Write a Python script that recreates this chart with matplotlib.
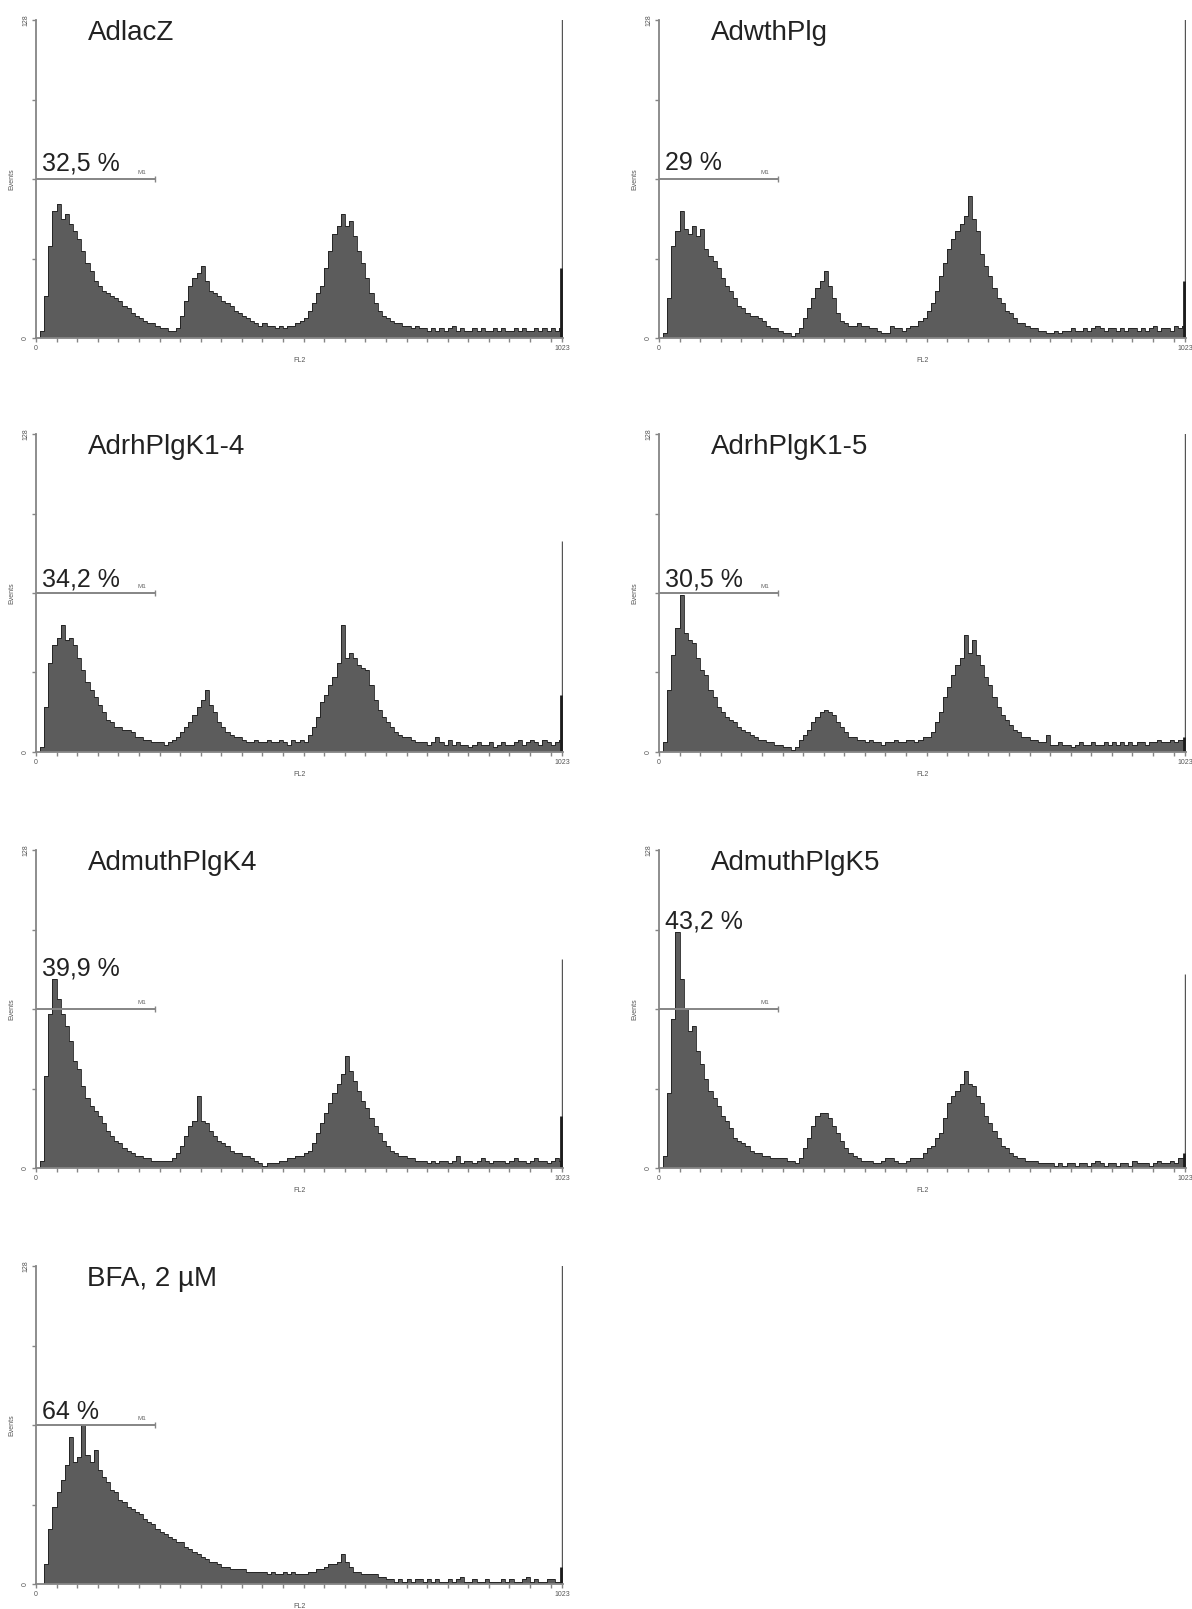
import numpy as np
import matplotlib
matplotlib.use("Agg")
import matplotlib.pyplot as plt

plt.rcParams['font.family'] = ['Liberation Sans', 'DejaVu Sans']

# FL2 histograms, 128 bins of 8 channels each (channels 0..1023), events per bin
adlacz = [
    0, 3, 17, 37, 51, 54, 48, 50, 46, 43, 40, 35, 30, 27, 23, 21,
    19, 18, 17, 16, 15, 13, 12, 10, 9, 8, 7, 6, 6, 5, 4, 4,
    3, 3, 4, 9, 15, 21, 24, 26, 29, 23, 19, 18, 17, 15, 14, 13,
    11, 10, 9, 8, 7, 6, 5, 6, 5, 5, 4, 5, 4, 5, 5, 6,
    7, 8, 11, 14, 18, 21, 28, 35, 42, 45, 50, 45, 47, 41, 35, 30,
    24, 18, 14, 11, 9, 8, 7, 6, 6, 5, 5, 4, 5, 4, 4, 3,
    4, 3, 4, 3, 4, 5, 3, 4, 3, 3, 4, 3, 4, 3, 3, 4,
    3, 4, 3, 3, 4, 3, 4, 3, 3, 4, 3, 4, 3, 4, 3, 4,
]
adwthplg = [
    0, 2, 16, 37, 43, 51, 44, 42, 45, 41, 44, 36, 33, 31, 28, 24,
    21, 19, 16, 13, 12, 10, 9, 9, 8, 7, 5, 4, 4, 3, 2, 2,
    1, 2, 4, 8, 12, 16, 20, 23, 27, 21, 16, 10, 7, 6, 5, 5,
    6, 5, 5, 4, 4, 3, 2, 2, 5, 4, 4, 3, 4, 5, 5, 7,
    8, 11, 14, 19, 25, 30, 36, 40, 43, 46, 49, 57, 48, 43, 34, 29,
    25, 20, 16, 14, 11, 10, 8, 6, 6, 5, 4, 4, 3, 3, 2, 2,
    3, 2, 3, 3, 4, 3, 3, 4, 3, 4, 5, 4, 3, 4, 4, 3,
    4, 3, 4, 4, 3, 4, 3, 4, 5, 3, 4, 4, 3, 5, 4, 5,
]
adrhplgk14 = [
    0, 2, 18, 36, 43, 46, 51, 45, 46, 43, 38, 33, 28, 25, 22, 19,
    16, 13, 12, 10, 10, 9, 9, 8, 6, 6, 5, 5, 4, 4, 4, 3,
    4, 5, 6, 8, 10, 12, 15, 18, 21, 25, 19, 16, 12, 10, 8, 7,
    6, 6, 5, 4, 4, 5, 4, 4, 5, 4, 4, 5, 4, 3, 5, 4,
    5, 4, 7, 10, 14, 20, 23, 27, 30, 36, 51, 38, 40, 38, 35, 34,
    33, 27, 21, 17, 14, 12, 10, 8, 7, 6, 6, 5, 4, 4, 4, 3,
    4, 6, 4, 3, 5, 3, 4, 3, 3, 2, 3, 4, 3, 3, 4, 2,
    3, 4, 3, 3, 4, 5, 3, 4, 5, 4, 3, 5, 4, 3, 4, 5,
]
adrhplgk15 = [
    0, 4, 25, 39, 50, 63, 48, 45, 44, 38, 33, 31, 25, 22, 18, 16,
    14, 13, 12, 10, 9, 8, 7, 6, 5, 5, 4, 4, 3, 3, 2, 2,
    1, 2, 5, 7, 9, 12, 14, 16, 17, 16, 15, 12, 10, 8, 6, 6,
    5, 5, 4, 5, 4, 4, 3, 4, 4, 5, 4, 4, 5, 5, 4, 5,
    6, 6, 8, 12, 16, 22, 26, 31, 35, 38, 47, 40, 45, 39, 35, 30,
    27, 22, 18, 15, 13, 11, 9, 8, 6, 6, 5, 5, 4, 4, 7, 3,
    3, 4, 3, 3, 2, 3, 4, 3, 3, 4, 3, 3, 4, 3, 4, 3,
    4, 3, 4, 3, 4, 4, 3, 4, 4, 5, 4, 4, 5, 4, 5, 5,
]
admuthplgk4 = [
    0, 3, 37, 62, 76, 68, 62, 57, 51, 43, 40, 33, 28, 25, 23, 21,
    18, 15, 13, 11, 10, 8, 7, 6, 5, 5, 4, 4, 3, 3, 3, 3,
    3, 4, 6, 9, 13, 17, 19, 29, 19, 18, 15, 13, 11, 10, 9, 7,
    6, 6, 5, 5, 4, 3, 2, 1, 2, 2, 2, 3, 3, 4, 4, 5,
    5, 6, 7, 10, 14, 18, 22, 26, 30, 34, 38, 45, 39, 35, 31, 27,
    24, 20, 17, 14, 11, 9, 7, 6, 5, 5, 4, 4, 3, 3, 3, 2,
    3, 2, 3, 3, 2, 3, 5, 2, 3, 3, 2, 3, 4, 3, 2, 3,
    3, 3, 2, 3, 4, 3, 3, 2, 3, 4, 3, 3, 2, 3, 4, 3,
]
admuthplgk5 = [
    0, 5, 30, 60, 95, 76, 64, 55, 57, 47, 42, 36, 31, 28, 25, 21,
    19, 16, 12, 11, 10, 9, 7, 6, 6, 5, 5, 4, 4, 4, 4, 3,
    3, 2, 4, 8, 12, 17, 21, 22, 22, 20, 17, 14, 11, 8, 6, 5,
    4, 3, 3, 3, 2, 2, 3, 4, 4, 3, 2, 2, 3, 4, 4, 4,
    6, 8, 9, 12, 14, 20, 26, 29, 31, 34, 39, 34, 33, 29, 26, 21,
    18, 15, 12, 9, 8, 6, 5, 4, 4, 3, 3, 3, 2, 2, 2, 2,
    1, 2, 1, 2, 2, 1, 2, 2, 1, 2, 3, 2, 1, 2, 2, 1,
    2, 2, 1, 3, 2, 2, 2, 1, 2, 3, 2, 2, 3, 2, 4, 4,
]
bfa = [
    0, 0, 8, 22, 31, 37, 42, 48, 59, 49, 51, 64, 52, 49, 54, 46,
    43, 41, 38, 37, 34, 33, 31, 30, 29, 28, 26, 25, 24, 22, 21, 20,
    19, 18, 17, 17, 15, 14, 13, 12, 11, 10, 9, 9, 8, 7, 7, 6,
    6, 6, 6, 5, 5, 5, 5, 5, 4, 5, 4, 4, 5, 4, 5, 4,
    4, 4, 5, 5, 6, 6, 7, 8, 8, 9, 12, 9, 7, 5, 5, 4,
    4, 4, 4, 3, 3, 2, 2, 1, 2, 1, 2, 1, 2, 2, 1, 2,
    1, 2, 1, 1, 2, 1, 2, 3, 1, 1, 2, 1, 1, 2, 1, 1,
    1, 2, 1, 2, 1, 1, 2, 3, 1, 2, 1, 1, 2, 2, 1, 1,
]

samples = ['AdlacZ', 'AdwthPlg', 'AdrhPlgK1-4', 'AdrhPlgK1-5',
           'AdmuthPlgK4', 'AdmuthPlgK5', 'BFA, 2 µM']
histograms = [adlacz, adwthplg, adrhplgk14, adrhplgk15,
              admuthplgk4, admuthplgk5, bfa]
m1_percent = ['32,5 %', '29 %', '34,2 %', '30,5 %', '39,9 %', '43,2 %', '64 %']
# overflow channel 1023: full count and the shoulder just before it
overflow_hi = [140, 140, 85, 140, 84, 78, 140]
overflow_lo = [28, 23, 23, 6, 21, 6, 7]

m1_gate = [0, 231]      # M1 marker channel range
m1_level = 64           # events level at which the marker is drawn
y_ticks = [0, 32, 64, 96, 128]

# layout (pixels of a 1192 x 1609 canvas)
W, H = 1192, 1609
col_left = [36, 659]
ax_w = 527
row_zero = [338, 752, 1168, 1584]
ax_h = 318
pct_y = [67.5, 67.5, 66.5, 66.5, 77.5, 96.5, 66.5]

FILL = '#5c5c5c'
EDGE = '#1c1c1c'
AXC = '#858585'
TXT = '#222222'

fig = plt.figure(figsize=(W / 100, H / 100), dpi=100)
fig.patch.set_facecolor('white')

edges = np.arange(0, 1025, 8)

for i, (name, counts) in enumerate(zip(samples, histograms)):
    r, c = divmod(i, 2)
    left = col_left[c] / W
    bottom = 1 - row_zero[r] / H
    ax = fig.add_axes([left, bottom, ax_w / W, ax_h / H])
    ax.set_xlim(0, 1024)
    ax.set_ylim(0, 128)

    ax.stairs(counts, edges, fill=True, color=FILL, lw=0, zorder=2)
    ax.stairs(counts, edges, color=EDGE, lw=0.6, zorder=3)
    ax.vlines(1023, 0, overflow_hi[i], color='#555555', lw=1.0, zorder=3)
    ax.vlines(1021, 0, overflow_lo[i], color=EDGE, lw=2.0, zorder=3)

    # M1 marker
    ax.plot(m1_gate, [m1_level, m1_level], color=AXC, lw=1.4,
            solid_capstyle='butt', zorder=4, clip_on=False)
    ax.vlines(m1_gate[1], m1_level - 1.3, m1_level + 1.3, color=AXC, lw=1.0,
              zorder=4)
    ax.text(205, m1_level + 1.5, 'M1', fontsize=4.5, color='#666666',
            ha='center', va='bottom')

    ax.text(100, 120, name, fontsize=20, color=TXT, va='baseline', ha='left')
    ax.text(12, pct_y[i], m1_percent[i], fontsize=18, color=TXT,
            va='baseline', ha='left', zorder=5)

    for s in ('top', 'right'):
        ax.spines[s].set_visible(False)
    for s in ('left', 'bottom'):
        ax.spines[s].set_color(AXC)
        ax.spines[s].set_linewidth(1.3)
        ax.spines[s].set_zorder(5)

    ax.set_yticks(y_ticks)
    ax.set_yticklabels([str(y_ticks[0]), '', '', '', str(y_ticks[-1])],
                       rotation=90, va='center', fontsize=5, color='#555555')
    ax.set_xticks([0, 1023])
    ax.set_xticklabels(['0', '1023'], fontsize=5, color='#555555')
    ax.set_xticks(np.arange(40, 1001, 40), minor=True)
    ax.tick_params(axis='both', which='both', direction='out', length=3,
                   width=1, color=AXC, pad=2)

    ax.set_xlabel('FL2', fontsize=5, color='#555555')
    ax.xaxis.set_label_coords(0.5, -0.06)
    ax.set_ylabel('Events', fontsize=5, color='#555555')
    ax.yaxis.set_label_coords(-0.04, 0.5)

fig.savefig('out.png', dpi=100, facecolor='white')
